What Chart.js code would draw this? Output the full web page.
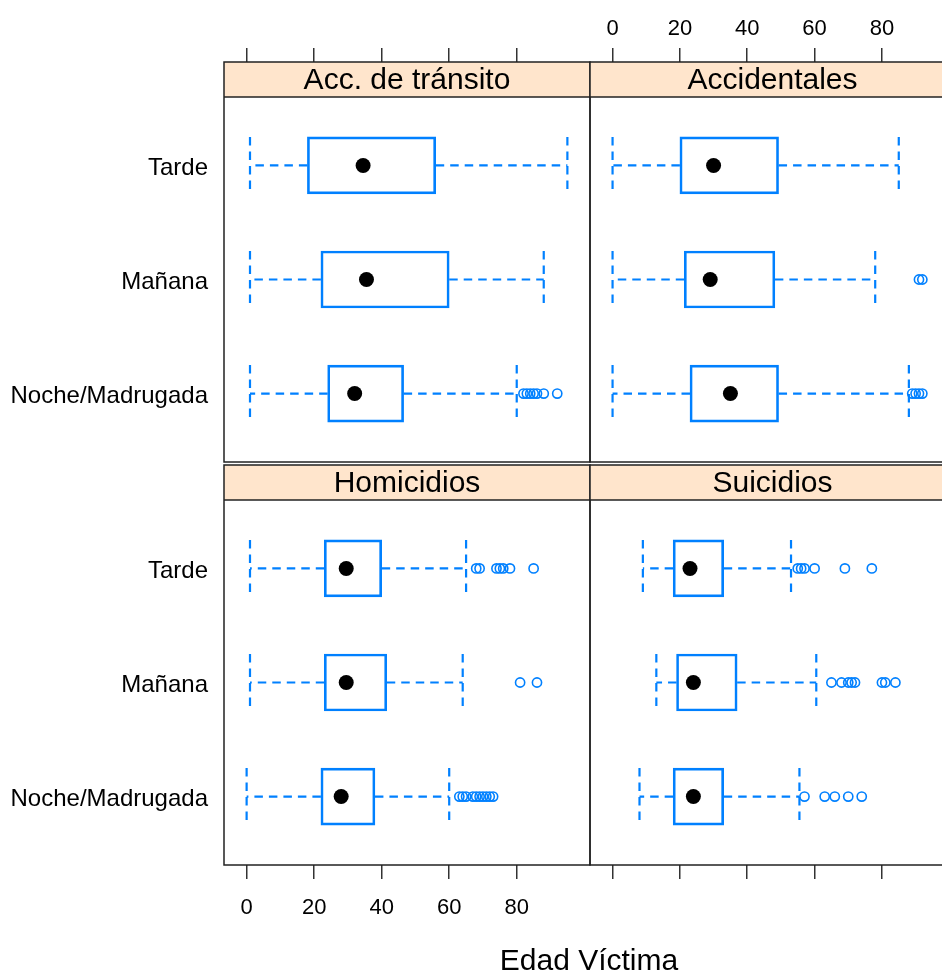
<!DOCTYPE html>
<html>
<head>
<meta charset="utf-8">
<script src="https://cdn.jsdelivr.net/npm/chart.js@4/dist/chart.umd.min.js"></script>
<style>
  html, body { margin: 0; padding: 0; overflow: hidden; background: #fff; width: 942px; height: 971px; }
  canvas { position: absolute; left: 0; top: 0; }
  #xlab {
    position: absolute; left: 389px; width: 400px; top: 943px;
    text-align: center; line-height: 30px; color: #000;
    font: 30px "Liberation Sans", Arial, sans-serif;
  }
</style>
</head>
<body>
<canvas id="pTL" width="960" height="971"></canvas>
<canvas id="pTR" width="960" height="971"></canvas>
<canvas id="pBL" width="960" height="971"></canvas>
<canvas id="pBR" width="960" height="971"></canvas>
<div id="xlab">Edad Víctima</div>
<script>
// niveles de abajo hacia arriba
const periodos = ["Noche/Madrugada", "Mañana", "Tarde"];
const ticksEdad = [0, 20, 40, 60, 80];
const paneles = ["Acc. de tránsito", "Accidentales", "Homicidios", "Suicidios"];

// [bigote inf, Q1, mediana, Q3, bigote sup] para Noche, Mañana, Tarde
const statsTransito = [[1, 24, 32, 46.5, 80], [1, 22, 35.5, 60, 88], [1, 18, 34.5, 56, 95]];
const atipTransito = [[82, 83, 84, 85, 86, 88, 92], [], []];

const statsAccidentales = [[0, 23, 35, 49.3, 88], [0, 21.3, 29, 48.2, 78], [0, 20, 30, 49.3, 85]];
const atipAccidentales = [[89, 90, 91, 92], [91, 92], []];

const statsHomicidios = [[0, 22, 28, 38, 60], [1, 23, 29.5, 41.5, 64], [1, 23, 29.5, 40, 65]];
const atipHomicidios = [[63, 64, 65, 67, 68, 69, 70, 71, 72, 73], [81, 86], [68, 69, 74, 75, 76, 78, 85]];

const statsSuicidios = [[8, 18, 24, 33, 55.5], [13, 19, 24, 37, 60.5], [9, 18, 23, 33, 53]];
const atipSuicidios = [[57, 63, 66, 70, 74], [65, 68, 70, 71, 72, 80, 81, 84], [55, 56, 57, 60, 69, 77]];

const AZUL = "#0080ff";
const FUENTE = '"Liberation Sans", Arial, sans-serif';
const EDAD_MIN = -6.7, EDAD_MAX = 101.7;
const ALTO_TIRA = 35, ALTO_PANEL = 365;
const Y_MAX = 3.6 + ALTO_TIRA * 3.2 / ALTO_PANEL;
const ANCHO = 960, ALTO = 971;

function crearPanel(id, titulo, stats, atipicos, pos) {
  const cajas = stats.map((s, i) => ({ x: [s[1], s[3]], y: i + 1 }));
  const medianas = stats.map((s, i) => ({ x: s[2], y: i + 1 }));
  const puntos = [];
  atipicos.forEach((lista, i) => lista.forEach(v => puntos.push({ x: v, y: i + 1 })));

  const dibujoPanel = {
    id: "dibujoPanel",
    beforeDatasetsDraw(chart) {
      const { ctx, chartArea: a, scales: { x, y } } = chart;
      const finTira = y.getPixelForValue(3.6);
      ctx.save();
      ctx.fillStyle = "#ffe5cc";
      ctx.fillRect(a.left, a.top, a.right - a.left, finTira - a.top);

      // bigotes discontinuos
      ctx.strokeStyle = AZUL;
      ctx.lineWidth = 2.2;
      ctx.setLineDash([8.5, 6]);
      stats.forEach((s, i) => {
        const nivel = i + 1;
        const yc = y.getPixelForValue(nivel);
        const y0 = y.getPixelForValue(nivel + 0.25);
        const y1 = y.getPixelForValue(nivel - 0.25);
        const segs = [
          [s[1], yc, s[0], yc],
          [s[3], yc, s[4], yc],
          [s[0], y0, s[0], y1],
          [s[4], y0, s[4], y1]
        ];
        segs.forEach(([xa, ya, xb, yb]) => {
          ctx.beginPath();
          ctx.moveTo(x.getPixelForValue(xa), ya);
          ctx.lineTo(x.getPixelForValue(xb), yb);
          ctx.stroke();
        });
      });
      ctx.restore();
    },
    afterDatasetsDraw(chart) {
      const { ctx, chartArea: a, scales: { y } } = chart;
      const finTira = y.getPixelForValue(3.6);
      ctx.save();
      ctx.strokeStyle = "#222";
      ctx.lineWidth = 1.5;
      ctx.strokeRect(a.left, a.top, a.right - a.left, a.bottom - a.top);
      ctx.beginPath();
      ctx.moveTo(a.left, finTira);
      ctx.lineTo(a.right, finTira);
      ctx.stroke();
      ctx.fillStyle = "#000";
      ctx.font = "30px " + FUENTE;
      ctx.textAlign = "center";
      ctx.textBaseline = "middle";
      ctx.fillText(titulo, (a.left + a.right) / 2, (a.top + finTira) / 2 + 1);
      ctx.restore();
    }
  };

  const arribaX = pos.ejeX === "top";

  return new Chart(document.getElementById(id), {
    type: "bar",
    data: {
      datasets: [
        {
          type: "scatter",
          data: medianas,
          order: 0,
          pointRadius: 7.5,
          pointBackgroundColor: "#000",
          pointBorderColor: "#000",
          pointBorderWidth: 0
        },
        {
          type: "scatter",
          data: puntos,
          order: 1,
          pointRadius: 4.6,
          pointBackgroundColor: "rgba(0,0,0,0)",
          pointBorderColor: AZUL,
          pointBorderWidth: 1.6
        },
        {
          type: "bar",
          indexAxis: "y",
          data: cajas,
          order: 2,
          barThickness: 57,
          backgroundColor: "rgba(0,0,0,0)",
          borderColor: AZUL,
          borderWidth: 2,
          borderSkipped: false
        }
      ]
    },
    options: {
      indexAxis: "y",
      responsive: false,
      animation: false,
      devicePixelRatio: 1,
      events: [],
      layout: {
        autoPadding: false,
        padding: {
          left: 0,
          right: ANCHO - pos.der,
          top: arribaX ? 0 : pos.arriba,
          bottom: arribaX ? ALTO - pos.abajo : 0
        }
      },
      plugins: { legend: { display: false }, tooltip: { enabled: false } },
      scales: {
        x: {
          type: "linear",
          position: pos.ejeX,
          min: EDAD_MIN,
          max: EDAD_MAX,
          offset: false,
          beginAtZero: false,
          afterBuildTicks: s => { s.ticks = ticksEdad.map(v => ({ value: v })); },
          afterFit: s => { s.height = arribaX ? pos.arriba : ALTO - pos.abajo; },
          grid: { display: true, offset: false, drawOnChartArea: false, drawTicks: true, tickLength: 14, color: "#333", lineWidth: 1.5 },
          border: { display: false },
          ticks: {
            display: pos.etiquetasX,
            padding: arribaX ? 6 : 16,
            color: "#000",
            maxRotation: 0,
            font: { family: FUENTE, size: 22 }
          }
        },
        y: {
          type: "linear",
          position: "left",
          min: 0.4,
          max: Y_MAX,
          offset: false,
          beginAtZero: false,
          afterBuildTicks: s => { s.ticks = [1, 2, 3].map(v => ({ value: v })); },
          afterFit: s => { s.width = pos.izq; },
          grid: { display: false, offset: false, drawTicks: false },
          border: { display: false },
          ticks: {
            display: pos.etiquetasY,
            padding: 16,
            labelOffset: 3,
            color: "#000",
            font: { family: FUENTE, size: 24 },
            callback: v => periodos[v - 1]
          }
        }
      }
    },
    plugins: [dibujoPanel]
  });
}

crearPanel("pTL", paneles[0], statsTransito, atipTransito,
  { izq: 224, der: 590, arriba: 62, abajo: 462, ejeX: "top", etiquetasX: false, etiquetasY: true });
crearPanel("pTR", paneles[1], statsAccidentales, atipAccidentales,
  { izq: 590, der: 955, arriba: 62, abajo: 462, ejeX: "top", etiquetasX: true, etiquetasY: false });
crearPanel("pBL", paneles[2], statsHomicidios, atipHomicidios,
  { izq: 224, der: 590, arriba: 465, abajo: 865, ejeX: "bottom", etiquetasX: true, etiquetasY: true });
crearPanel("pBR", paneles[3], statsSuicidios, atipSuicidios,
  { izq: 590, der: 955, arriba: 465, abajo: 865, ejeX: "bottom", etiquetasX: false, etiquetasY: false });
</script>
</body>
</html>
